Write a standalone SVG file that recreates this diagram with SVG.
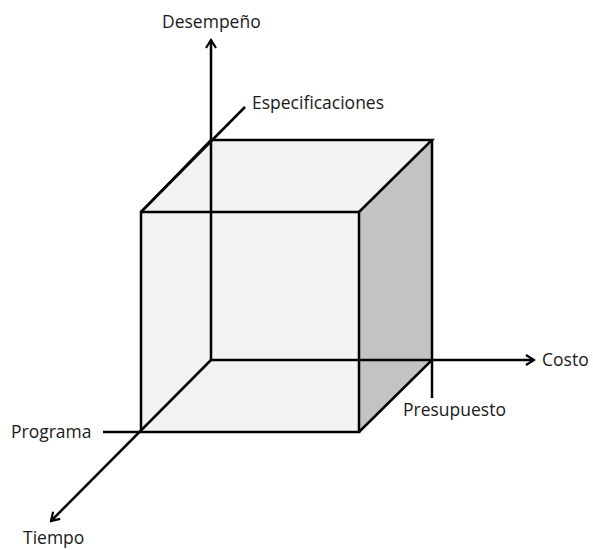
<svg xmlns="http://www.w3.org/2000/svg" width="593" height="550" viewBox="0 0 593 550">
<style>
.edge{stroke:#000;stroke-width:2.5;fill:none;stroke-linecap:butt}
.lbl{font-family:"Open Sans","Liberation Sans",sans-serif;font-size:17.5px;fill:#1a1a1a}
</style>
<defs>
<marker id="arr" viewBox="0 0 12 12" refX="10" refY="6" markerWidth="12" markerHeight="12" markerUnits="userSpaceOnUse" orient="auto">
<polyline points="2,1 10,6 2,11" fill="none" stroke="#000" stroke-width="2.2"/>
</marker>
</defs>
<g id="cube">
<polygon points="141,212 211,140 432,140 359,212" fill="#f2f2f2"/>
<rect x="141" y="212" width="218" height="220" fill="#f2f2f2"/>
<polygon points="359,212 432,140 432,360 359,432" fill="#c3c3c3"/>
</g>
<g id="connectors">
<line class="edge" x1="211" y1="360" x2="211" y2="40" marker-end="url(#arr)"/>
<line class="edge" x1="211" y1="360" x2="534" y2="360" marker-end="url(#arr)"/>
<line class="edge" x1="245" y1="107" x2="141" y2="212"/>
<line class="edge" x1="211" y1="360" x2="51" y2="521" marker-end="url(#arr)"/>
<line class="edge" x1="432" y1="360" x2="432" y2="398"/>
<line class="edge" x1="103" y1="432" x2="141" y2="432"/>
<polyline class="edge" points="141,432 141,212 359,212 359,432 141,432"/>
<polyline class="edge" points="141,212 211,140 432,140 359,212"/>
<polyline class="edge" points="432,140 432,360 359,432"/>
</g>
<g id="labels">
<text class="lbl" x="162" y="28">Desempeño</text>
<text class="lbl" x="252" y="109">Especificaciones</text>
<text class="lbl" x="542" y="366">Costo</text>
<text class="lbl" x="403" y="416">Presupuesto</text>
<text class="lbl" x="11" y="438">Programa</text>
<text class="lbl" x="23" y="544">Tiempo</text>
</g>
</svg>
